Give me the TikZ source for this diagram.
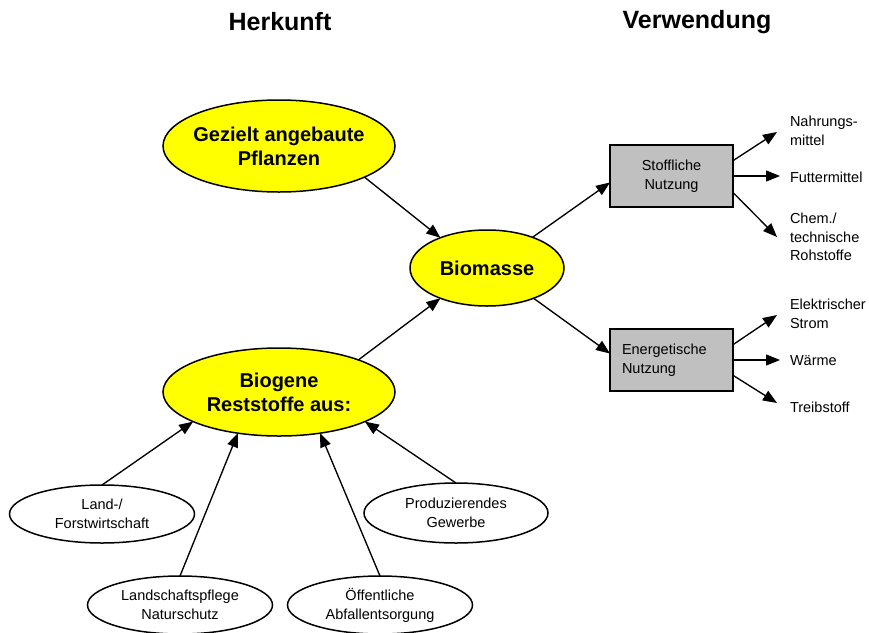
\documentclass[tikz,border=0pt]{standalone}
\usepackage{fontspec}
\setmainfont{Liberation Sans}
\usetikzlibrary{shapes.geometric,arrows.meta}
\definecolor{ylw}{RGB}{255,255,0}
\definecolor{boxgray}{RGB}{192,192,192}
\begin{document}
\begin{tikzpicture}[x=1pt,y=-1pt,
  every node/.style={inner sep=0pt, outer sep=0pt},
  conn/.style={line width=1.35pt, -{Triangle[length=14pt,width=11pt]}},
  bigell/.style={ellipse, draw, line width=1.5pt, fill=ylw},
  smallell/.style={ellipse, draw, line width=1.5pt, fill=white, minimum width=185pt, minimum height=58pt},
  usebox/.style={rectangle, draw, line width=1.5pt, fill=boxgray, minimum width=123pt, minimum height=62pt},
  bigtxt/.style={font=\fontsize{20}{24}\selectfont\bfseries, align=center},
  smalltxt/.style={font=\fontsize{14.5}{19}\selectfont, align=center},
  outtxt/.style={font=\fontsize{14.5}{18.5}\selectfont, align=left, anchor=west},
  title/.style={font=\fontsize{25}{30}\selectfont\bfseries}
]
\fill[white] (0,0) rectangle (869,632);
\useasboundingbox (0,0) rectangle (869,632);

% titles
\node[title] (herk) at (280,22) {Herkunft};
\node[title] (verw) at (697,22) {Verwendung};

% main ellipses
\node[bigell, minimum width=232pt, minimum height=92pt] (gez) at (279,146) {};
\node[bigtxt] (gezT) at (gez) {Gezielt angebaute\\Pflanzen};
\node[bigell, minimum width=154pt, minimum height=76pt] (bio) at (487,268) {};
\node[bigtxt] (bioT) at (bio) {Biomasse};
\node[bigell, minimum width=232pt, minimum height=88pt] (bg) at (279,392) {};
\node[bigtxt] (bgT) at (bg) {Biogene\\Reststoffe aus:};

% source ellipses
\node[smallell] (land) at (102,514) {};
\node[smalltxt] (landT) at (land) {Land-/\\Forstwirtschaft};
\node[smallell, minimum width=184pt, minimum height=60pt] (prod) at (456,513) {};
\node[smalltxt] (prodT) at (prod) {Produzierendes\\Gewerbe};
\node[smallell] (lsp) at (180,605) {};
\node[smalltxt] (lspT) at (lsp) {Landschaftspflege\\Naturschutz};
\node[smallell] (oef) at (380,605) {};
\node[smalltxt] (oefT) at (oef) {Öffentliche\\Abfallentsorgung};

% use boxes
\node[usebox, font=\fontsize{14.5}{18.5}\selectfont, align=center] (sto) at (671.5,176) {Stoffliche\\Nutzung};
\node[usebox] (ene) at (671.5,360) {};
\node[font=\fontsize{14.5}{18.5}\selectfont, align=left, anchor=west] (eneT) at ([xshift=12pt]ene.west) {Energetische\\Nutzung};

% main connectors
\draw[conn] (gez.-20) -- (bio.147);
\draw[conn] (bg.22) -- (bio.213);
\draw[conn] (bio.34) -- (sto.186);
\draw[conn] (bio.-33) -- (ene.174);

% source connectors
\draw[conn] (land.north) -- (bg.199);
\draw[conn] (lsp.north) -- (bg.225);
\draw[conn] (oef.north) -- (bg.-45);
\draw[conn] (prod.north) -- (bg.-19);

% output tips
\coordinate (t1) at (777,132);
\coordinate (t2) at (780,176);
\coordinate (t3) at (777,237);
\coordinate (t4) at (777,315);
\coordinate (t5) at (780,360);
\coordinate (t6) at (777,403);
\draw[conn] (sto.14) -- (t1);
\draw[conn] (sto.east) -- (t2);
\draw[conn] (sto.-15) -- (t3);
\draw[conn] (ene.14) -- (t4);
\draw[conn] (ene.east) -- (t5);
\draw[conn] (ene.-14) -- (t6);

% output labels
\node[outtxt] (o1) at (790,131) {Nahrungs-\\mittel};
\node[outtxt] (o2) at (790,177) {Futtermittel};
\node[outtxt] (o3) at (790,237) {Chem./\\technische\\Rohstoffe};
\node[outtxt] (o4) at (790,314) {Elektrischer\\Strom};
\node[outtxt] (o5) at (790,361) {Wärme};
\node[outtxt] (o6) at (790,407) {Treibstoff};
\end{tikzpicture}
\end{document}
